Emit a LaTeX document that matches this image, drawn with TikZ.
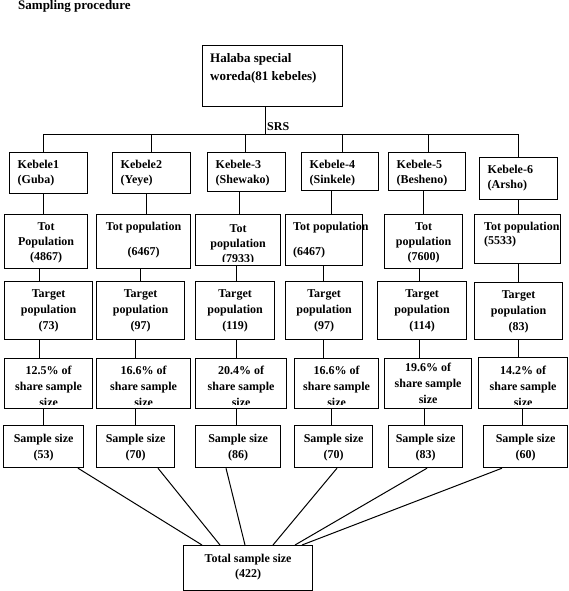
\documentclass[tikz,border=0pt]{standalone}
\usepackage{fontspec}
\setmainfont{Liberation Serif}
\begin{document}
\begin{tikzpicture}[x=1pt,y=-1pt,
  cell/.style={draw, line width=1.2pt, inner sep=0pt, anchor=north west},
  txt/.style={inner sep=0pt, anchor=base, align=center, font=\bfseries\fontsize{12}{16}\selectfont},
  txtl/.style={txt, anchor=base west, align=left},
  link/.style={line width=1pt}]

\useasboundingbox (0,0) rectangle (568,591);

\node[txtl, font=\bfseries\fontsize{13}{16}\selectfont] (title) at (18,9.5) {Sampling procedure};

% boxes, corner to corner
\foreach \n/\xa/\ya/\xb/\yb in
{halaba/202/45/342/106,
    k1/9/152/87/193, k2/112/152/190/193, k3/207/152/285/191,
    k4/301/152/378/190, k5/388/152/465/190, k6/479/157/557/199,
    t1/4/214/87/268, t2/96/214/190/268, t3/195/214/280/265,
    t4/285/214/362/265, t5/384/214/462/268, t6/474/214/560/263,
    g1/4/281/92/339, g2/96/281/184/339, g3/195/281/274/339,
    g4/285/281/362/339, g5/377/281/466/339, g6/474/282/562/339,
    s1/4/358/92/408, s2/96/358/190/408, s3/195/358/286/408,
    s4/294/358/378/408, s5/384/358/471/408, s6/478/357/567/408,
    p1/3/425/83/467, p2/96/425/174/467, p3/195/425/280/467,
    p4/294/425/372/467, p5/388/425/462/467, p6/483/425/567/467,
    total/183/545/312/590
}
{
    \node[cell, minimum width={(\xb-\xa)*1pt}, minimum height={(\yb-\ya)*1pt}] (\n) at (\xa,\ya) {};
};

% texts (base = last line)
\node[txtl, font=\bfseries\fontsize{13}{18}\selectfont] (halaba-txt)
    at ([xshift=8pt,yshift=-36pt]halaba.north west) {Halaba special\\woreda(81 kebeles)};

\foreach \n/\t in
{k1/Kebele1\\(Guba), k2/Kebele2\\(Yeye), k3/Kebele-3\\(Shewako),
    k4/Kebele-4\\(Sinkele), k5/Kebele-5\\(Besheno), k6/Kebele-6\\(Arsho)
}
{
    \node[txtl, font=\bfseries\fontsize{12}{15}\selectfont] (\n-txt)
        at ([xshift=8.5pt,yshift=-31pt]\n.north west) {\t};
};

\node[txt, font=\bfseries\fontsize{12}{15}\selectfont] (t1-txt) at ([yshift=-46pt]t1.north) {Tot\\Population\\(4867)};
\node[txt, font=\bfseries\fontsize{12}{15}\selectfont] (t2-txt) at ([yshift=-41pt]t2.north) {Tot population\\[10pt](6467)};
\begin{scope}
    \clip (t3.north west) rectangle ([yshift=4.5pt]t3.south east);
    \node[txt, font=\bfseries\fontsize{12}{15}\selectfont] (t3-txt) at ([yshift=-48pt]t3.north) {Tot\\population\\(7933)};
\end{scope}
\node[txtl, font=\bfseries\fontsize{12}{15}\selectfont] (t4-txt) at ([xshift=8pt,yshift=-41pt]t4.north west) {Tot population\\[10pt](6467)};
\node[txt, font=\bfseries\fontsize{12}{15}\selectfont] (t5-txt) at ([yshift=-46pt]t5.north) {Tot\\population\\(7600)};
\node[txtl, font=\bfseries\fontsize{12}{14}\selectfont] (t6-txt) at ([xshift=10pt,yshift=-30pt]t6.north west) {Tot population\\(5533)};

\foreach \n/\v in {g1/73, g2/97, g3/119, g4/97, g5/114, g6/83}
{
    \node[txt] (\n-txt) at ([yshift=-48pt]\n.north) {Target\\population\\(\v)};
};

\foreach \n/\v/\d in {s1/12.5/48, s2/16.6/48, s3/20.4/48, s4/16.6/48, s5/19.6/45, s6/14.2/49}
{
    \begin{scope}
        \clip (\n.north west) rectangle ([yshift=4.5pt]\n.south east);
        \node[txt] (\n-txt) at ([yshift=-\d pt]\n.north) {\v\% of\\share sample\\size};
    \end{scope}
};

\foreach \n/\v in {p1/53, p2/70, p3/86, p4/70, p5/83, p6/60}
{
    \node[txt] (\n-txt) at ([yshift=-33pt]\n.north) {Sample size\\(\v)};
};

\node[txt, font=\bfseries\fontsize{12}{15}\selectfont] (total-txt) at ([yshift=-32pt]total.north) {Total sample size\\(422)};

% SRS split
\coordinate (bus) at (265,134);
\draw[link] (halaba.south -| bus) -- (bus);
\node[txtl] (srs) at (267,130) {SRS};
\draw[link] (bus -| 43,0) -- (bus -| 518,0);
\foreach \n/\xx in {k1/43, k2/151, k3/245, k4/342, k5/428, k6/518}
{
    \draw[link] (bus -| \xx,0) -- (\n.north -| \xx,0);
};

% columns
\foreach \a/\b/\xx in
{k1/t1/43, k2/t2/146, k3/t3/239, k4/t4/331, k5/t5/423, k6/t6/518,
    t1/g1/39, t2/g2/140, t3/g3/236, t4/g4/323, t5/g5/419, t6/g6/518,
    g1/s1/39, g2/s2/135, g3/s3/236, g4/s4/323, g5/s5/419, g6/s6/518,
    s1/p1/43, s2/p2/135, s3/p3/236, s4/p4/331, s5/p5/424, s6/p6/522
}
{
    \draw[link] (\a.south -| \xx,0) -- (\b.north -| \xx,0);
};

% into the total
\foreach \a/\xa/\xb in {p1/78/202, p2/158/220, p3/226/245, p4/337/273, p5/427/295, p6/502/302}
{
    \draw[link] (\a.south -| \xa,0) -- (total.north -| \xb,0);
};

\end{tikzpicture}
\end{document}
